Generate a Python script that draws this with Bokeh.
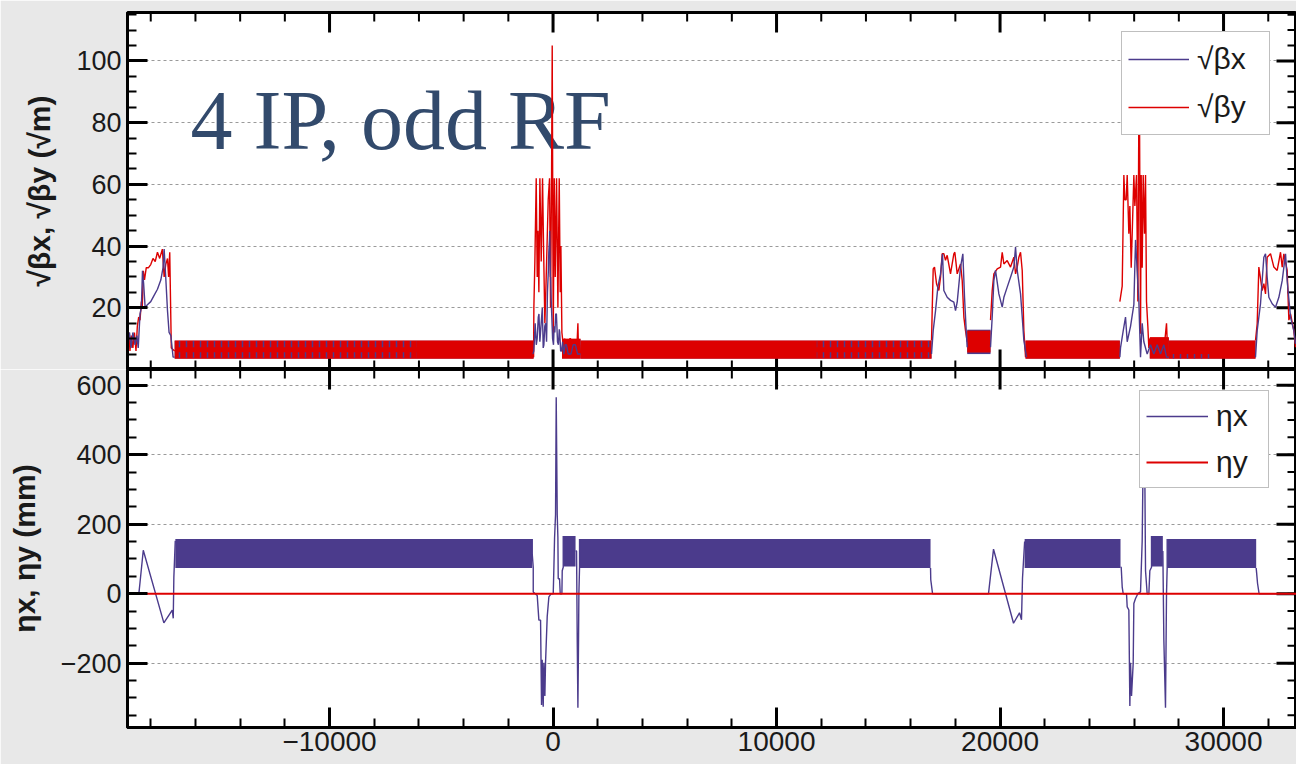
import math
from bokeh.plotting import figure
from bokeh.layouts import column
from bokeh.models import Range1d, FixedTicker, Legend, LegendItem, Label
from bokeh.embed import file_html
from bokeh.resources import INLINE

# ---------------- data ----------------
# x axis (s position)
x_major = [-10000, 0, 10000, 20000, 30000]
x_minor = list(range(-18000, 34001, 2000))
# top panel ticks
b_major = [20, 40, 60, 80, 100]
b_minor = list(range(0, 116, 5))
# bottom panel ticks
e_major = [-200, 0, 200, 400, 600]
e_minor = list(range(-350, 640, 50))

# sqrt(beta_x): non-arc regions
bx_xs = [
    [-19040, -18950, -18880, -18800, -18700, -18620, -18560, -18480, -18420, -18370, -18320, -18250, -18150,
     -18000, -17850, -17700, -17550, -17450, -17400, -17330, -17250, -17180, -17100, -17000, -16930],
    [-900, -860, -800, -750, -710, -660, -630, -590, -560, -520, -480, -440, -410, -370, -330, -290, -250,
     -210, -190, -160, -150, -120, -110, -80, -60, -20, 20, 50, 80, 120, 150, 200, 240, 280, 300, 340, 380,
     430, 480, 540, 600, 680, 800, 900, 1000, 1100, 1230],
    [16934, 17009, 17113, 17217, 17337, 17426, 17485, 17635, 17784, 17933, 18008, 18083, 18232, 18336,
     18411, 18485, 18530],
    [19574, 19649, 19723, 19798, 19947, 20097, 20171, 20320, 20469, 20618, 20693, 20768, 20917, 20992,
     21066, 21184],
    [25360, 25390, 25510, 25614, 25689, 25838, 25987, 26062, 26136, 26211, 26285, 26360, 26434, 26583,
     26732, 26881, 27030, 27180, 27329, 27448, 27553],
    [31430, 31505, 31654, 31803, 31878, 31952, 32027, 32176, 32325, 32475, 32624, 32773, 32847, 32996,
     33145, 33220],
]
bx_ys = [
    [9, 12, 7, 12, 8, 11, 7, 18, 20, 32, 28, 20, 21, 22, 24, 26, 29, 33, 39, 30, 19, 12, 11, 4, 4],
    [5, 6, 15, 8, 10, 17, 18, 9, 12, 16, 20, 7, 8, 14, 15, 9, 25, 32, 38, 42, 45, 30, 30, 22, 18, 10, 8,
     14, 12, 18, 18, 9, 8, 13, 12, 6, 6, 9, 5, 8, 8, 5, 5, 8, 8, 5, 5],
    [5, 12.6, 19, 26.7, 31, 37.5, 25.6, 23.4, 22.4, 21.8, 19.1, 21.8, 33.2, 37.5, 23.4, 12.6, 7.2],
    [7.2, 17, 28.8, 32.1, 24.5, 20.2, 23.4, 26.7, 29.9, 33.2, 39.7, 32.1, 24.5, 17, 9.4, 4],
    [4, 7, 12.5, 17, 9, 14, 21, 42, 32, 22, 4, 15, 9, 5, 8, 5, 8, 5, 8, 4, 4],
    [4, 12.6, 21.3, 36.4, 37.5, 29.9, 23.4, 21.3, 20.2, 23.4, 28.8, 37.5, 28.8, 17, 12.6, 8.3],
]

# sqrt(beta_y): non-arc regions
by_xs = [
    [-19040, -18980, -18930, -18870, -18800, -18730, -18660, -18600, -18540, -18480, -18420, -18380,
     -18330, -18280, -18200, -18100, -18000, -17900, -17800, -17700, -17600, -17480, -17400, -17330,
     -17250, -17200, -17150, -17080, -16930],
    [-870, -858, -813, -753, -708, -678, -634, -589, -529, -470, -425, -366, -306, -216, -157, -112, -67,
     -37, 8, 54, 98, 157, 217, 277, 321, 351, 396, 440, 485, 520, 560, 640, 709, 750, 783, 850, 933, 970,
     1007, 1060, 1112, 1141, 1190, 1230],
    [16934, 16964, 17009, 17068, 17158, 17262, 17337, 17411, 17485, 17560, 17635, 17784, 17933, 17978,
     18083, 18232, 18307, 18381, 18455, 18530],
    [19574, 19649, 19723, 19873, 20022, 20097, 20171, 20320, 20469, 20618, 20693, 20768, 20842, 20917,
     20992, 21066, 21140],
    [25360, 25465, 25540, 25584, 25644, 25689, 25763, 25808, 25868, 25913, 25987, 26032, 26106, 26166,
     26226, 26285, 26315, 26360, 26405, 26464, 26509, 26553, 26613, 26657, 26702, 26762, 26881, 27030,
     27180, 27329, 27448, 27508, 27553],
    [31430, 31505, 31579, 31624, 31729, 31803, 31878, 31952, 32102, 32251, 32400, 32549, 32624, 32698,
     32847, 32922, 32996, 33145, 33220],
]
by_ys = [
    [6, 12, 6, 11, 7, 12, 6, 14, 17, 16, 22, 20, 32, 29, 33, 33, 34, 36, 35, 38, 36, 39, 30, 34, 36, 30,
     38, 7, 6],
    [4, 20, 35, 62, 30, 45, 25, 62, 35, 62, 40, 15, 30, 55, 62, 20, 62, 105, 10, 62, 30, 62, 20, 62, 25,
     40, 12, 9, 5, 10, 9, 5, 6, 10, 10, 5, 5, 9, 9, 6, 15, 5, 8, 5],
    [9.4, 19, 32.6, 33.2, 27.8, 25.6, 29.9, 37.5, 37.5, 35.4, 37, 31, 37.5, 38, 31, 34.2, 28.8, 17,
     12.6, 9],
    [16, 25.6, 31, 32.6, 33.2, 38, 34.2, 35.3, 33.2, 36.4, 31, 33.2, 36.4, 38, 32.1, 12.6, 4],
    [22, 27, 63, 55, 55, 63, 44, 53, 33, 44, 63, 53, 63, 22, 105, 11.6, 63, 33, 63, 44, 63, 22, 14, 7,
     10, 6, 9, 5, 9, 6, 15, 4, 4],
    [9.4, 14.8, 33.2, 31, 25.6, 27.8, 24.5, 36.4, 37.5, 33.2, 32.1, 38, 33.2, 37.5, 32.1, 16, 18, 12.6,
     7.2],
]

# dense FODO arc sections (envelope of the oscillation)
bx_band_x0 = [-16930, 400, 1230, 18530, 21140, 26700, 27553]
bx_band_x1 = [-870, 1230, 16934, 19574, 25360, 27553, 31430]
bx_band_lo = [3.6, 3.6, 3.6, 5.0, 3.6, 3.6, 3.6]
bx_band_hi = [9.3, 9.8, 9.3, 12.9, 9.3, 10.2, 9.3]

by_band_x0 = [-16930, 400, 1230, 18530, 21140, 26700, 27553]
by_band_x1 = [-870, 1230, 16934, 19574, 25360, 27553, 31430]
by_band_lo = [3.5, 3.5, 3.5, 5.5, 3.5, 3.5, 3.5]
by_band_hi = [9.4, 10.0, 9.4, 12.6, 9.4, 10.5, 9.4]

# stretches where the beta_x oscillation shows through the red band
tick_x0 = [-16930, -16930, 11800, 11800, 27600]
tick_x1 = [-6100, -6100, 16934, 16934, 29400]
tick_lo = [7.2, 3.8, 7.2, 3.8, 3.6]
tick_hi = [9.2, 5.6, 9.2, 5.6, 5.0]

# eta_x: dense arc sections
eta_band_x0 = [-16900, 456, 1186, 21100, 26777, 27480]
eta_band_x1 = [-931, 1007, 16890, 25390, 27284, 31460]
eta_band_lo = [74, 78, 74, 74, 78, 74]
eta_band_hi = [157, 166, 157, 157, 166, 157]

# eta_x: non-arc regions
ex_xs = [
    [-19040, -18980, -18532, -18487, -18334, -17413, -17037, -16993, -16966, -16903],
    [-931, -931, -886, -886, -708, -634, -559, -515, -485, -440, -410, -366, -336, -261, -186, -82, 8, 38,
     68, 112, 142, 187, 217, 232, 291, 321, 396, 411, 456, 456],
    [1007, 1052, 1082, 1112, 1141, 1156, 1186, 1186],
    [16890, 16900, 16980, 19484, 19708, 20603, 20871, 20960, 21005, 21100],
    [25390, 25421, 25466, 25510, 25659, 25689, 25763, 25808, 25838, 25883, 25958, 25987, 26062, 26166,
     26285, 26360, 26434, 26464, 26509, 26583, 26658, 26702, 26777, 26777],
    [27284, 27329, 27403, 27448, 27478, 27478],
    [31460, 31480, 31520, 31590, 33300],
]
ex_ys = [
    [0, 0, 0, 28, 125, -84, -47, -71, 47, 152],
    [157, 114, 76, 5, -5, -76, -76, -320, -190, -325, -199, -294, -199, -66, -9, 0, 0, 76, 161, 228, 565,
     228, 161, 43, 43, 0, 0, 66, 76, 166],
    [123, 123, -133, -328, -133, 0, 76, 157],
    [74, 40, 0, 0, 128, -85, -55, -75, 45, 150],
    [76, 76, 19, 0, 0, -38, -47, -323, -199, -294, -199, -28, -14, 0, 5, 152, 565, 465, 66, 0, 0, 66, 76,
     166],
    [123, -133, -328, 0, 76, 157],
    [74, 60, 30, 0, 0],
]

# eta_y
ey_x = [-19040, 33300]
ey_y = [0, 0]

# ---------------- styling ----------------
BLUE = "#4b3b8c"
RED = "#dd0000"
FONT = "Liberation Sans"
BORDER = "#e8e8e8"
X0, X1 = -19040, 33264
MAJ, MIN = 40, 18   # marker sizes: half of each lies inside the frame

x_range = Range1d(X0, X1)


def style_axis(ax, font_size):
    ax.axis_line_width = 3
    ax.axis_line_color = "black"
    ax.major_tick_in = 20
    ax.major_tick_out = 0
    ax.minor_tick_in = 9
    ax.minor_tick_out = 0
    ax.major_tick_line_width = 3
    ax.minor_tick_line_width = 2
    ax.major_tick_line_color = "black"
    ax.minor_tick_line_color = "black"
    ax.major_label_text_font = FONT
    ax.major_label_text_color = "#1a1a1a"
    ax.major_label_text_font_size = font_size
    ax.major_label_standoff = 6


def mirror_ticks(p, y_edges, ymaj, ymin):
    """Inward ticks on frame edges that carry no labels (ROOT style)."""
    for ye in y_edges:
        p.scatter(x=x_major, y=[ye] * len(x_major), marker="dash", angle=math.pi / 2,
                  size=MAJ, line_color="black", line_width=3)
        p.scatter(x=x_minor, y=[ye] * len(x_minor), marker="dash", angle=math.pi / 2,
                  size=MIN, line_color="black", line_width=2)
    p.scatter(x=[X1] * len(ymaj), y=ymaj, marker="dash", size=MAJ, line_color="black", line_width=3)
    p.scatter(x=[X1] * len(ymin), y=ymin, marker="dash", size=MIN, line_color="black", line_width=2)


def make_fig(height, y0, y1, border_top, border_bottom, ymaj, ymin, ylabel, xlabels):
    p = figure(width=1296, height=height, x_range=x_range, y_range=Range1d(y0, y1),
               output_backend="svg", toolbar_location=None,
               x_axis_location="below" if xlabels else None,
               min_border_left=127, min_border_right=0,
               min_border_top=border_top, min_border_bottom=border_bottom,
               background_fill_color="white", border_fill_color=BORDER,
               outline_line_color="black", outline_line_width=3)
    p.yaxis[0].ticker = FixedTicker(ticks=ymaj, minor_ticks=ymin)
    style_axis(p.yaxis[0], "27px")
    p.yaxis[0].axis_label = ylabel
    p.yaxis[0].axis_label_text_font = FONT
    p.yaxis[0].axis_label_text_font_style = "bold"
    p.yaxis[0].axis_label_text_font_size = "30px"
    p.yaxis[0].axis_label_text_color = "#1a1a1a"
    p.yaxis[0].axis_label_standoff = 17
    if xlabels:
        p.xaxis[0].ticker = FixedTicker(ticks=x_major, minor_ticks=x_minor)
        style_axis(p.xaxis[0], "28px")
        p.xaxis[0].major_label_standoff = 4
    p.xgrid.visible = False
    p.ygrid[0].ticker = FixedTicker(ticks=ymaj)
    p.ygrid[0].grid_line_color = "#9a9a9a"
    p.ygrid[0].grid_line_dash = "3 3"
    p.ygrid[0].grid_line_width = 1
    return p


def make_legend(items, loc, glyph_h, spacing, glyph_w, label_w):
    return Legend(items=items, location=loc, orientation="vertical", level="underlay",
                  padding=6, spacing=spacing, margin=0,
                  glyph_width=glyph_w, glyph_height=glyph_h, label_height=glyph_h,
                  label_width=label_w, label_standoff=8,
                  label_text_font=FONT, label_text_font_size="30px", label_text_color="#1a1a1a",
                  border_line_color="#808080", border_line_width=1.5,
                  background_fill_color="white", background_fill_alpha=1.0)


# ---------------- top panel ----------------
B0, B1 = 0, 115.7
p1 = make_fig(369, B0, B1, 12, 0, b_major, b_minor, "√βx, √βy (√m)", False)
mirror_ticks(p1, [B0, B1], b_major, b_minor)

title = Label(x=-16218, y=80.7, text="4 IP, odd RF", text_font="Liberation Serif",
              text_font_size="84px", text_color="#324a6c", text_baseline="alphabetic", level="underlay")
p1.add_layout(title)

p1.quad(left=bx_band_x0, right=bx_band_x1, bottom=bx_band_lo, top=bx_band_hi,
        fill_color=BLUE, line_color=None)
p1.quad(left=by_band_x0, right=by_band_x1, bottom=by_band_lo, top=by_band_hi,
        fill_color=RED, line_color=None)
p1.quad(left=tick_x0, right=tick_x1, bottom=tick_lo, top=tick_hi, fill_color=None, line_color=None,
        hatch_pattern="vertical_line", hatch_color=BLUE, hatch_scale=7, hatch_weight=1.5)
by_r = p1.multi_line(xs=by_xs, ys=by_ys, line_color=RED, line_width=1.4)
bx_r = p1.multi_line(xs=bx_xs, ys=bx_ys, line_color=BLUE, line_width=1.4)

leg1 = make_legend([LegendItem(label="√βx", renderers=[bx_r]),
                    LegendItem(label="√βy", renderers=[by_r])],
                   (994, 234), 42, 6, 61, 66)
p1.add_layout(leg1)

# ---------------- bottom panel ----------------
E0, E1 = -385, 645
p2 = make_fig(395, E0, E1, 0, 37, e_major, e_minor, "ηx, ηy (mm)", True)
mirror_ticks(p2, [E1], e_major, e_minor)

p2.quad(left=eta_band_x0, right=eta_band_x1, bottom=eta_band_lo, top=eta_band_hi,
        fill_color=BLUE, line_color=None)
ex_r = p2.multi_line(xs=ex_xs, ys=ex_ys, line_color=BLUE, line_width=1.4)
ey_r = p2.line(ey_x, ey_y, line_color=RED, line_width=2)

leg2 = make_legend([LegendItem(label="ηx", renderers=[ex_r]),
                    LegendItem(label="ηy", renderers=[ey_r])],
                   (1012, 239), 38, 8, 62, 46)
p2.add_layout(leg2)

layout = column(p1, p2, spacing=0)

open("out.html", "w").write(file_html(layout, INLINE))
